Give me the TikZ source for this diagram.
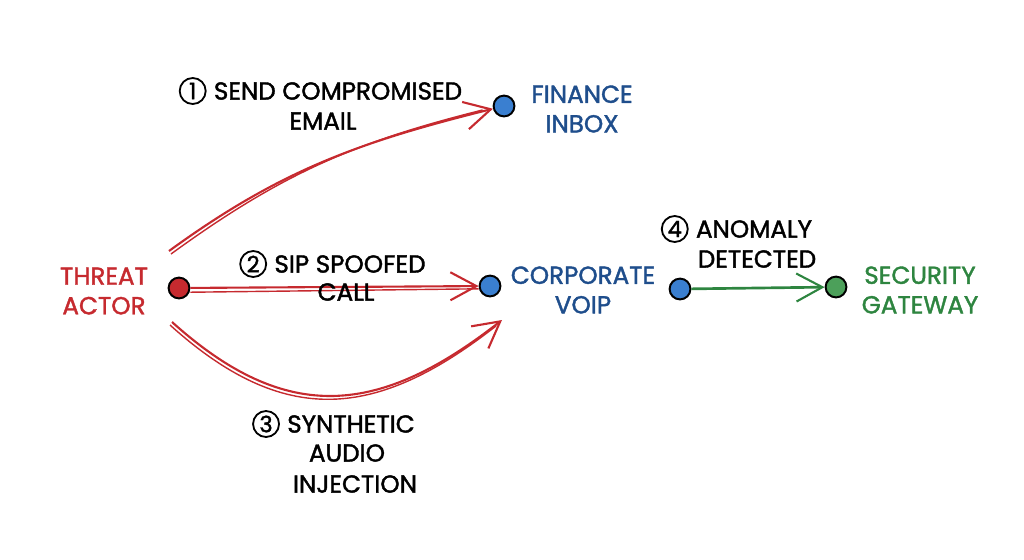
\documentclass[tikz,border=0pt]{standalone}
\usepackage{fontspec}
\setmainfont{Poppins}[FakeBold=1.6]
\usetikzlibrary{arrows.meta, positioning}
\definecolor{actred}{HTML}{C62A2F}
\definecolor{sysblue}{HTML}{1F4E8C}
\definecolor{dotblue}{HTML}{3A7FD0}
\definecolor{gwgreen}{HTML}{2E8540}
\definecolor{dotgreen}{HTML}{4CA05A}

\begin{document}
\begin{tikzpicture}[
  x=0.025cm, y=-0.025cm,
  dot/.style={circle, draw=black, line width=1.4pt, minimum size=0.52cm, inner sep=0pt},
  lbl/.style={font=\fontsize{17.5}{21}\selectfont, align=center, inner sep=1pt},
  num/.style={circle, draw=black, line width=1.3pt, minimum size=0.65cm, inner sep=0pt,
    font=\fontsize{16}{16}\selectfont},
  flow/.style={line width=1.5pt, -{Straight Barb[length=6.5mm, width=7mm, line width=1.5pt]}}
]
  \useasboundingbox (0,0) rectangle (1024,559);

  % Dots
  \node[dot, fill=actred] (actor) at (179,288) {};
  \node[dot, fill=dotblue] (inbox) at (504,106) {};
  \node[dot, fill=dotblue] (voip) at (490,286) {};
  \node[dot, fill=dotblue] (voipout) at (680,289) {};
  \node[dot, fill=dotgreen] (gateway) at (836,287) {};

  % Names
  \node[lbl, text=actred] (actorname) at (104,291) {THREAT\\ACTOR};
  \node[lbl, text=sysblue] (inboxname) at (582,109) {FINANCE\\INBOX};
  \node[lbl, text=sysblue] (voipname) at (583,290) {CORPORATE\\VOIP};
  \node[lbl, text=gwgreen] (gatewayname) at (920,290) {SECURITY\\GATEWAY};

  % Free ends
  \coordinate (actorup) at (169,251);
  \coordinate (actordown) at (172,322);
  \coordinate (voipdown) at (502,320);

  % Edges
  \draw[flow, actred] (actorup) to[out=36, in=194] (inbox);
  \draw[actred, line width=1pt] ([shift={(2,3)}]actorup) to[out=36, in=194] ([shift={(-10,4)}]inbox.west);
  \draw[flow, actred] (actor) -- (voip);
  \draw[actred, line width=1pt] ([yshift=-3]actor.east) -- ([yshift=-2]voip.west);
  \draw[flow, actred] (actordown) to[out=-42, in=218, looseness=1.2] (voipdown);
  \draw[actred, line width=1pt] ([shift={(-2,3)}]actordown) to[out=-42, in=218, looseness=1.2] ([shift={(-6,6)}]voipdown);
  \draw[flow, gwgreen, line width=1.9pt] (voipout) -- (gateway);

  % Step labels
  \node[lbl] (l1a) at (338,91) {SEND COMPROMISED};
  \node[num, left=4pt of l1a] (n1) {1};
  \node[lbl] (l1b) at (323,121) {EMAIL};

  \node[lbl] (l2a) at (350,264) {SIP SPOOFED};
  \node[num, left=4pt of l2a] (n2) {2};
  \node[lbl] (l2b) at (346,292) {CALL};

  \node[lbl] (l3a) at (351,424) {SYNTHETIC};
  \node[num, left=4pt of l3a] (n3) {3};
  \node[lbl] (l3b) at (347,453) {AUDIO};
  \node[lbl] (l3c) at (355,484) {INJECTION};

  \node[lbl] (l4a) at (754,229) {ANOMALY};
  \node[num, left=4pt of l4a] (n4) {4};
  \node[lbl] (l4b) at (757,259) {DETECTED};
\end{tikzpicture}
\end{document}
